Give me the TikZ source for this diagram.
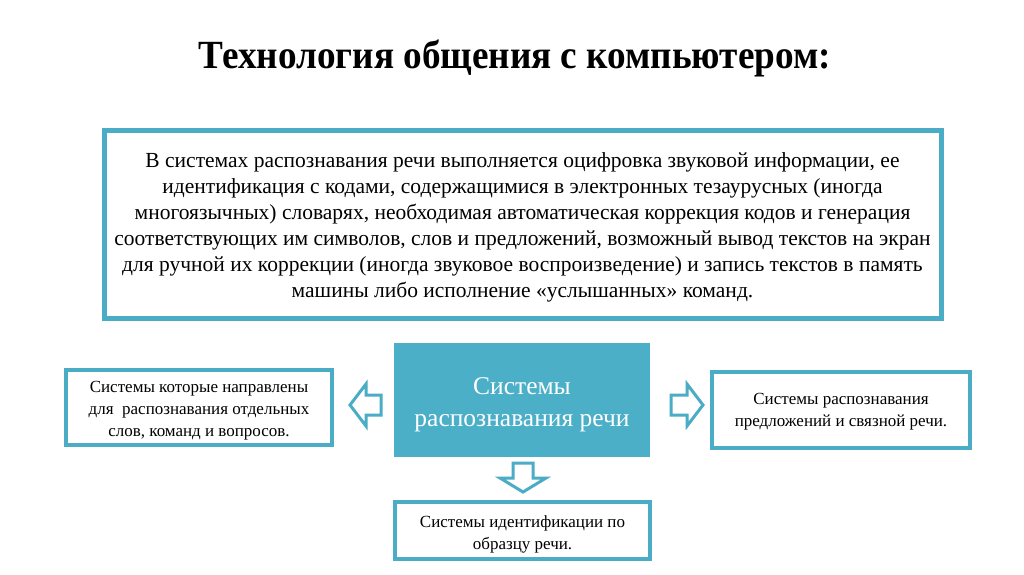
\documentclass[tikz,border=0pt]{standalone}
\usepackage{fontspec}
\setmainfont{Liberation Serif}
\definecolor{teal}{HTML}{4BACC6}
\definecolor{tealfill}{HTML}{4BAFC8}
\tikzset{
  frame/.style={draw=teal, line width=4pt, fill=white},
  txt/.style={align=center, text=black, inner sep=0pt},
  smalltxt/.style={txt, font=\fontsize{17}{22}\selectfont},
  blockarrow/.style={draw=teal, line width=3pt, fill=white, line join=miter},
}
\begin{document}
\begin{tikzpicture}[x=1pt,y=-1pt]
\useasboundingbox[fill=white] (0,0) rectangle (1024,574);
% title
\node[inner sep=0pt] (title) at (515,58) {\scalebox{0.93}[1]{\fontsize{40}{44}\selectfont\bfseries Технология общения с компьютером:}};
% top box
\draw[frame, line width=5pt] (104,130) rectangle (941,318);
\node[txt, font=\fontsize{21.5}{26}\selectfont] (top) at (522.5,227) {В системах распознавания речи выполняется оцифровка звуковой информации, ее\\
идентификация с кодами, содержащимися в электронных тезаурусных (иногда\\
многоязычных) словарях, необходимая автоматическая коррекция кодов и генерация\\
соответствующих им символов, слов и предложений, возможный вывод текстов на экран\\
для ручной их коррекции (иногда звуковое воспроизведение) и запись текстов в память\\
машины либо исполнение «услышанных» команд.};
% center box
\fill[tealfill] (394,343) rectangle (650,457);
\node[txt, text=white, font=\fontsize{25.5}{32}\selectfont] (center) at (522,405) {Системы\\распознавания речи};
% left box
\draw[frame] (66,370) rectangle (332,445);
\node[smalltxt] (left) at (199,411) {Системы которые направлены\\для~~распознавания отдельных\\слов, команд и вопросов.};
% right box
\draw[frame] (712,372) rectangle (970,448);
\node[smalltxt] (right) at (841,412) {Системы распознавания\\предложений и связной речи.};
% bottom box
\draw[frame] (395,502) rectangle (650,559);
\node[smalltxt] (bottom) at (522.5,534) {Системы идентификации по\\образцу речи.};
% left arrow
\draw[blockarrow] (350,405) -- (366,384) -- (366,395) -- (381,395) -- (381,415) -- (366,415) -- (366,426) -- cycle;
% right arrow
\draw[blockarrow] (703,405) -- (687,384) -- (687,395) -- (671,395) -- (671,415) -- (687,415) -- (687,426) -- cycle;
% down arrow
\draw[blockarrow] (523,492) -- (500,478) -- (513,478) -- (513,463) -- (533,463) -- (533,478) -- (546,478) -- cycle;
\end{tikzpicture}
\end{document}
